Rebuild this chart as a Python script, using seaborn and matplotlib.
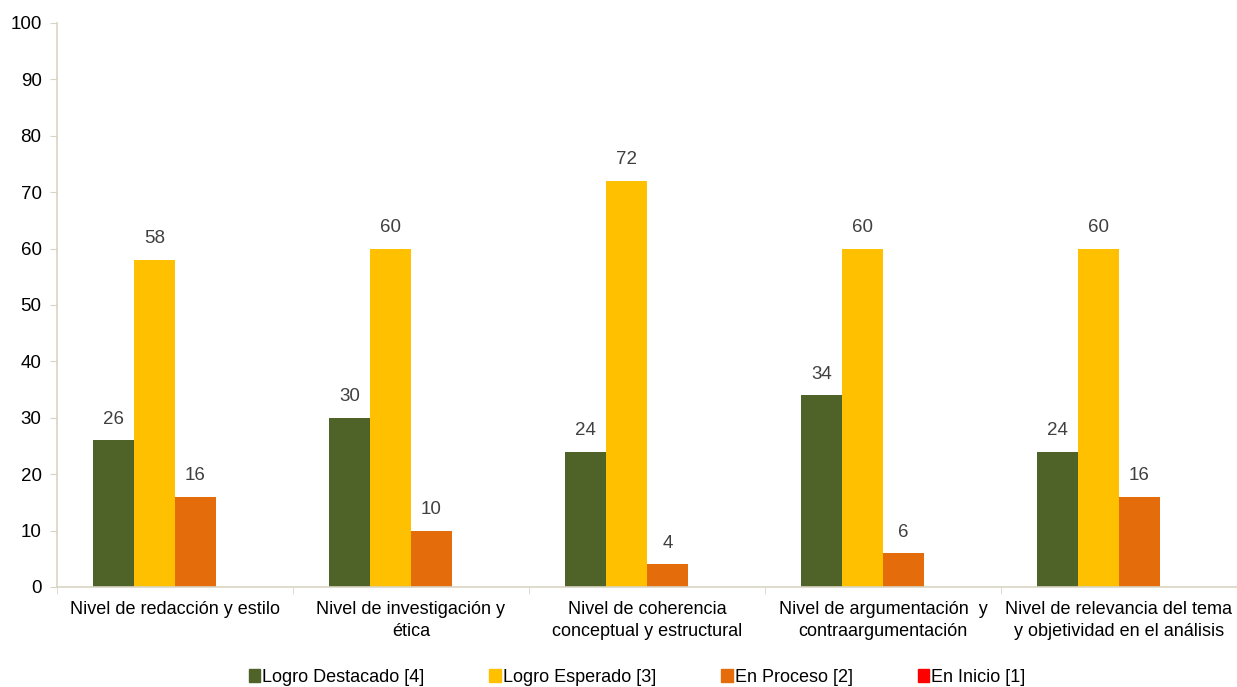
import numpy as np
import pandas as pd
import matplotlib
matplotlib.use("Agg")
import matplotlib.pyplot as plt
import seaborn as sns

# ── data ─────────────────────────────────────────────────────────────────────
categories = [
    "Nivel de redacción y estilo",
    "Nivel de investigación y\nética",
    "Nivel de coherencia\nconceptual y estructural",
    "Nivel de argumentación  y\ncontraargumentación",
    "Nivel de relevancia del tema\ny objetividad en el análisis",
]
series = ["Logro Destacado [4]", "Logro Esperado [3]", "En Proceso [2]", "En Inicio [1]"]
logro_destacado = [26, 30, 24, 34, 24]
logro_esperado = [58, 60, 72, 60, 60]
en_proceso = [16, 10, 4, 6, 16]
en_inicio = [0, 0, 0, 0, 0]

colors = ["#4F6228", "#FFC000", "#E46C0A", "#FF0000"]
axis_color = "#D9D5C3"
text_color = "#404040"

df = pd.DataFrame({
    "categoria": categories * 4,
    "serie": np.repeat(series, len(categories)),
    "valor": logro_destacado + logro_esperado + en_proceso + en_inicio,
})

sns.set_style("white")
plt.rcParams["font.family"] = ["Liberation Sans", "DejaVu Sans"]

fig = plt.figure(figsize=(12.37, 6.87), dpi=100)
ax = fig.add_axes([0.046, 0.1456, 0.954, 0.821])

sns.barplot(data=df, x="categoria", y="valor", hue="serie", order=categories,
            hue_order=series, palette=colors, width=0.695, saturation=1,
            edgecolor="none", linewidth=0, legend=False, ax=ax)

# value labels (skip zero bars)
for cont in ax.containers:
    labels = [f"{v:.0f}" if v > 0 else "" for v in cont.datavalues]
    ax.bar_label(cont, labels=labels, padding=9, fontsize=13.5, color=text_color)

ax.set_ylim(0, 100)
ax.set_xlim(-0.5, len(categories) - 0.5)
ax.set_yticks(range(0, 101, 10))
ax.set_xlabel("")
ax.set_ylabel("")

for side in ["top", "right"]:
    ax.spines[side].set_visible(False)
for side in ["left", "bottom"]:
    ax.spines[side].set_color(axis_color)
    ax.spines[side].set_linewidth(1.2)

ax.tick_params(axis="y", length=5, color=axis_color, labelsize=13.5,
               labelcolor="black", left=True, pad=6)
ax.tick_params(axis="x", which="major", length=0, labelsize=13,
               labelcolor="black", pad=10)
ax.set_xticks(np.arange(-0.5, len(categories)), minor=True)
ax.tick_params(axis="x", which="minor", length=5, color=axis_color, bottom=True)
for lab in ax.get_xticklabels():
    lab.set_linespacing(1.4)

handles = [plt.Rectangle((0, 0), 1, 1, color=c) for c in colors]
fig.legend(handles, series, loc="lower center", bbox_to_anchor=(0.515, -0.022),
           ncol=4, frameon=False, fontsize=13, handlelength=0.65,
           handleheight=0.65, handletextpad=0.1, columnspacing=3.6,
           labelcolor="black")

fig.savefig("out.png", dpi=100)
